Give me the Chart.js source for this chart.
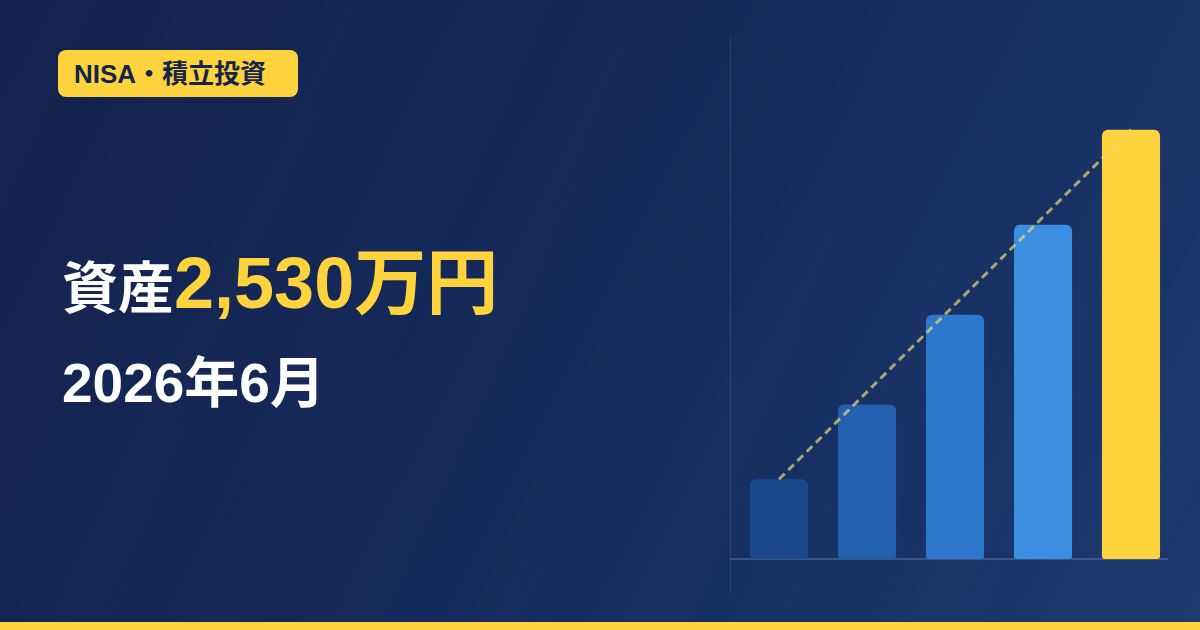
<!DOCTYPE html>
<html lang="ja">
<head>
<meta charset="utf-8">
<script src="https://cdn.jsdelivr.net/npm/chart.js@4/dist/chart.umd.min.js"></script>
<style>
  html, body { margin: 0; padding: 0; }
  body {
    width: 1200px; height: 630px; overflow: hidden; position: relative;
    background: linear-gradient(120deg, #12214b 0%, #142a5c 50%, #1b386d 100%);
    font-family: "Liberation Sans", "Noto Sans CJK JP", sans-serif;
    font-weight: bold;
  }
  .streaks {
    position: absolute; left: 0; top: 0; width: 1200px; height: 630px;
    background: repeating-linear-gradient(115deg, rgba(255,255,255,0) 0px, rgba(255,255,255,0.012) 60px, rgba(255,255,255,0) 130px);
  }
  .badge {
    position: absolute; left: 58px; top: 50px; width: 240px; height: 47px;
    background: #fed33d; border-radius: 8px;
    color: #14244a; font-size: 26px; line-height: 48px;
    box-sizing: border-box; padding-left: 16px; white-space: nowrap;
  }
  .title {
    position: absolute; left: 62px; top: 247px; white-space: nowrap;
    color: #ffffff; font-size: 56px; line-height: 72px;
  }
  .title .num { color: #fed33d; font-size: 72px; }
  .date {
    position: absolute; left: 62px; top: 353px; white-space: nowrap;
    color: #ffffff; font-size: 55px; line-height: 60px;
  }
  .vline { position: absolute; left: 730px; top: 36px; width: 1px; height: 558px; background: rgba(255,255,255,0.09); }
  .hline { position: absolute; left: 730px; top: 558px; width: 438px; height: 2px; background: rgba(120,150,210,0.35); }
  .wrap { position: absolute; left: 700px; top: 20px; width: 500px; height: 560px; }
  .bottom { position: absolute; left: 0; top: 622px; width: 1200px; height: 8px; background: #fed33d; }
</style>
</head>
<body>
<div class="streaks"></div>
<div class="badge">NISA・積立投資</div>
<div class="title">資産<span class="num">2,530万円</span></div>
<div class="date">2026年6月</div>
<div class="vline"></div>
<div class="hline"></div>
<div class="wrap"><canvas id="chart"></canvas></div>
<div class="bottom"></div>
<script>
var years = ['2022', '2023', '2024', '2025', '2026'];
var assets = [470, 910, 1440, 1970, 2530];
var trend = [470, null, null, null, 2530];
var barColors = ['#1b4a8c', '#2361ae', '#2d78cc', '#3c8fe0', '#fed33d'];
var yMax = 3000;

var context = document.getElementById('chart');
var chart = new Chart(context, {
    type: 'bar',
    data: {
        labels: years,
        datasets: [{
            type: 'line',
            data: trend,
            spanGaps: true,
            borderColor: 'rgba(230, 215, 120, 0.7)',
            borderWidth: 3,
            borderDash: [8, 5],
            pointRadius: 0,
            fill: false,
            order: 0
        }, {
            type: 'bar',
            data: assets,
            backgroundColor: barColors,
            borderRadius: { topLeft: 6, topRight: 6, bottomLeft: 3, bottomRight: 3 },
            borderSkipped: false,
            barPercentage: 0.66,
            categoryPercentage: 1,
            order: 1
        }]
    },
    options: {
        responsive: true,
        maintainAspectRatio: false,
        animation: false,
        layout: { padding: { left: 35, right: 25, top: 30, bottom: 21 } },
        plugins: { legend: { display: false }, tooltip: { enabled: false } },
        scales: {
            x: { display: false },
            y: { display: false, min: 0, max: yMax }
        }
    }
});
</script>
</body>
</html>
